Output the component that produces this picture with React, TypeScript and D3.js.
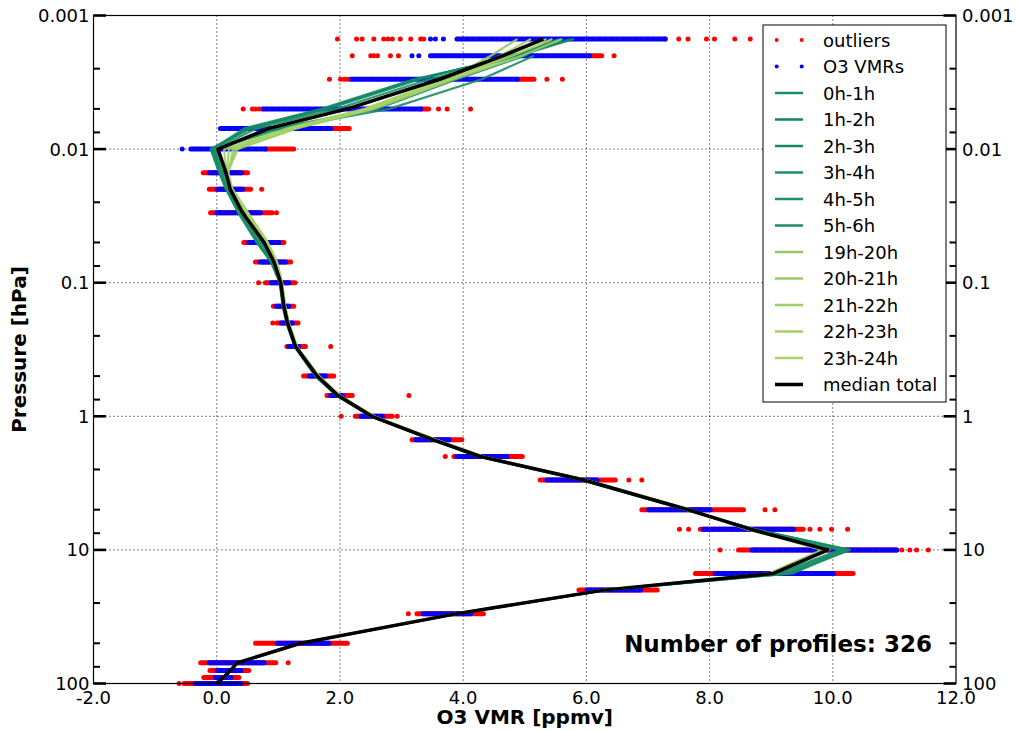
import { scaleLinear, scaleLog, line as d3line } from 'd3';

// pressure levels [hPa], one row of retrievals each
const LEVELS = [
  0.0015, 0.002, 0.003, 0.005, 0.007, 0.01, 0.015, 0.02, 0.03, 0.05, 0.07, 0.1, 0.15, 0.2, 0.3, 0.5, 0.7, 1, 1.5,
  2, 3, 5, 7, 10, 15, 20, 30, 50, 70, 80, 90, 100,
];

// dense spread per level: outliers (red) behind, accepted VMRs (blue) on top
const RED_LO = [
  7.28, 6.05, 4.88, 3.31, 1.85, 0.79, -0.22, -0.12, -0.1, 0.44, 0.63, 0.79, 0.92, 0.98, 1.14, 1.41, 1.79, 2.25, 3.17,
  3.85, 5.25, 6.9, 7.85, 8.47, 7.77, 5.88, 3.25, 0.63, -0.26, -0.11, -0.21, -0.53,
];
const RED_HI = [
  7.28, 6.25, 5.15, 3.44, 2.15, 1.25, 0.5, 0.55, 0.9, 1.09, 1.2, 1.27, 1.25, 1.32, 1.44, 1.9, 2.2, 2.85, 3.98, 4.96,
  6.47, 8.55, 9.52, 11.04, 10.33, 7.15, 4.33, 2.12, 0.96, 0.52, 0.36, 0.5,
];
const BLUE_LO = [
  3.9, 3.47, 2.17, 0.74, 0.06, -0.42, -0.12, 0.01, 0.0, 0.52, 0.71, 0.88, 0.97, 1.05, 1.17, 1.5, 1.85, 2.34, 3.23,
  3.9, 5.36, 7.01, 7.9, 8.69, 8.09, 6.01, 3.35, 0.98, -0.12, 0.01, -0.02, -0.34,
];
const BLUE_HI = [
  7.28, 6.05, 4.88, 3.31, 1.85, 0.79, 0.4, 0.42, 0.71, 1.01, 1.12, 1.17, 1.17, 1.23, 1.33, 1.77, 2.04, 2.69, 3.77,
  4.71, 6.17, 8.01, 9.36, 11.04, 10.01, 6.88, 4.12, 1.82, 0.77, 0.39, 0.23, 0.39,
];

// isolated points [pressure, vmr]
const RED_SINGLE: [number, number][] = [
  [0.0015, 1.96], [0.0015, 2.27], [0.0015, 2.36], [0.0015, 2.55], [0.0015, 2.71], [0.0015, 2.78], [0.0015, 2.85],
  [0.0015, 2.98], [0.0015, 3.15], [0.0015, 3.31], [0.0015, 3.36], [0.0015, 7.5], [0.0015, 7.65], [0.0015, 7.95],
  [0.0015, 8.08], [0.0015, 8.41], [0.0015, 8.66],
  [0.002, 2.2], [0.002, 2.5], [0.002, 2.55], [0.002, 2.61], [0.002, 2.82], [0.002, 2.95], [0.002, 6.45],
  [0.003, 1.83], [0.003, 2.01], [0.003, 2.07], [0.003, 2.12], [0.003, 5.36], [0.003, 5.61],
  [0.005, 0.43], [0.005, 0.58], [0.005, 0.63], [0.005, 0.69], [0.005, 3.6], [0.005, 3.74], [0.005, 4.12],
  [0.02, 0.73], [0.03, 0.97], [0.1, 0.68], [0.2, 0.91], [0.3, 1.85], [0.7, 3.12], [1, 2.02], [1, 2.93], [2, 3.71],
  [3, 6.69], [3, 6.9], [5, 8.9], [5, 9.06],
  [7, 7.51], [7, 7.66], [7, 9.63], [7, 9.79], [7, 9.98], [7, 10.24],
  [10, 8.17], [10, 11.12], [10, 11.25], [10, 11.36], [10, 11.55],
  [30, 3.11], [70, 1.16], [100, -0.61],
];
const BLUE_SINGLE: [number, number][] = [
  [0.0015, 3.47], [0.0015, 3.55], [0.0015, 3.68], [0.002, 3.17], [0.002, 3.28], [0.01, -0.56],
];

// hourly median profiles (null = level missing)
const HOUR_LABELS = [
  '0h-1h', '1h-2h', '2h-3h', '3h-4h', '4h-5h', '5h-6h', '19h-20h', '20h-21h', '21h-22h', '22h-23h', '23h-24h',
];
const HOUR_COLORS = [
  '#1a8c66', '#0d8666', '#118966', '#1f8f66', '#239166', '#1c8e66', '#94c966', '#99cc66', '#9ecf66', '#a3d166', '#a8d466',
];
const HOUR_VMR: (number | null)[][] = [
  [5.8, 4.9, 3.2, 1.7, 0.45, -0.08, 0.05, 0.16, 0.36, 0.66, 0.89, 1.03, 1.08, 1.14, 1.27, 1.62, 1.96, 2.51, 3.5, 4.26, 5.93, 7.62, 8.7, 10.25, 9.25, 6.3, 3.91, 1.37, 0.34, 0.23, 0.12, 0.01],
  [5.75, 4.85, 3.25, 1.75, 0.5, -0.06, 0.07, 0.17, 0.37, 0.68, 0.9, 1.03, 1.08, 1.14, 1.27, 1.61, 1.95, 2.5, 3.49, 4.25, 5.92, 7.61, 8.68, 10.18, 9.15, 6.29, 3.9, 1.36, 0.33, 0.22, 0.11, 0.0],
  [5.63, 4.8, 3.3, 1.8, 0.55, -0.1, 0.04, 0.15, 0.35, 0.65, 0.88, 1.02, 1.07, 1.13, 1.26, 1.6, 1.95, 2.5, 3.48, 4.24, 5.91, 7.6, 8.72, 10.28, 9.3, 6.31, 3.92, 1.37, 0.34, 0.23, 0.12, 0.01],
  [5.55, 4.95, 3.45, 1.95, 0.65, -0.04, 0.08, 0.18, 0.38, 0.7, 0.91, 1.03, 1.08, 1.14, 1.27, 1.62, 1.96, 2.51, 3.5, 4.27, 5.94, 7.63, 8.66, 10.12, 9.1, 6.28, 3.9, 1.36, 0.33, 0.22, 0.11, 0.0],
  [5.44, 5.0, 3.9, 2.6, 0.95, 0.0, 0.1, 0.19, 0.4, 0.72, 0.92, 1.04, 1.09, 1.15, 1.28, 1.62, 1.96, 2.51, 3.51, 4.27, 5.95, 7.64, 8.7, 10.2, 9.2, 6.29, 3.91, 1.37, 0.34, 0.23, 0.12, 0.01],
  [null, 5.15, 4.3, 2.8, 1.05, -0.02, 0.06, 0.16, 0.36, 0.67, 0.9, 1.03, 1.08, 1.14, 1.27, 1.61, 1.95, 2.5, 3.49, 4.26, 5.93, 7.62, 8.74, 10.22, 9.35, 6.32, 3.92, 1.37, 0.34, 0.23, 0.12, 0.01],
  [4.88, 4.45, 3.75, 2.5, 1.25, 0.3, 0.17, 0.25, 0.5, 0.82, 0.97, 1.06, 1.11, 1.17, 1.3, 1.66, 2.0, 2.55, 3.56, 4.32, 6.0, 7.68, 8.64, 9.85, 8.98, 6.26, 3.89, 1.35, 0.33, 0.22, 0.11, 0.0],
  [5.6, 4.95, 3.85, 2.55, 1.3, 0.34, 0.18, 0.26, 0.51, 0.83, 0.98, 1.06, 1.11, 1.17, 1.3, 1.66, 2.0, 2.55, 3.56, 4.33, 6.01, 7.69, 8.62, 9.9, 9.0, 6.27, 3.89, 1.35, 0.33, 0.22, 0.11, 0.0],
  [5.45, 4.8, 3.8, 2.45, 1.2, 0.2, 0.16, 0.24, 0.49, 0.81, 0.97, 1.05, 1.1, 1.16, 1.29, 1.65, 1.99, 2.54, 3.55, 4.31, 5.99, 7.67, 8.66, 9.82, 8.96, 6.26, 3.89, 1.35, 0.33, 0.22, 0.11, 0.0],
  [5.1, 4.6, 3.7, 2.4, 1.15, 0.12, 0.15, 0.24, 0.48, 0.8, 0.96, 1.05, 1.1, 1.16, 1.29, 1.65, 1.99, 2.54, 3.55, 4.31, 5.99, 7.67, 8.6, 9.95, 9.02, 6.27, 3.9, 1.36, 0.33, 0.22, 0.11, 0.0],
  [5.35, 4.7, 3.78, 2.48, 1.22, 0.26, 0.19, 0.25, 0.5, 0.82, 0.97, 1.06, 1.11, 1.17, 1.3, 1.66, 2.0, 2.55, 3.56, 4.32, 6.0, 7.68, 8.63, 9.88, 8.99, 6.26, 3.89, 1.35, 0.33, 0.22, 0.11, 0.0],
];
const MEDIAN_VMR = [
  5.3, 4.65, 3.62, 2.12, 0.85, 0.02, 0.15, 0.22, 0.42, 0.77, 0.93, 1.04, 1.09, 1.15, 1.28, 1.63, 1.97, 2.52, 3.52, 4.28,
  5.96, 7.65, 8.66, 9.92, 9.04, 6.28, 3.9, 1.36, 0.33, 0.22, 0.11, 0.0,
];

const X_TICKS = [-2, 0, 2, 4, 6, 8, 10, 12];
const Y_TICKS = [0.001, 0.01, 0.1, 1, 10, 100];
const Y_TICK_LABELS = ['0.001', '0.01', '0.1', '1', '10', '100'];
const Y_MINOR = [2.5, 5, 7.5];
const N_PROFILES = 326;

const W = 1017;
const H = 731;
const L = 93.5;
const R = 956;
const T = 15.5;
const B = 683.5;
const FONT = '"DejaVu Sans", sans-serif';

export default function App() {
  const x = scaleLinear().domain([-2, 12]).range([L, R]);
  const y = scaleLog().domain([0.001, 100]).range([T, B]);

  const gen = d3line<number | null>()
    .defined((d) => d != null)
    .x((d) => x(d as number))
    .y((_, i) => y(LEVELS[i]));

  const minor: number[] = [];
  Y_TICKS.slice(0, -1).forEach((t) => Y_MINOR.forEach((m) => minor.push(t * m)));

  const legendRows = ['outliers', 'O3 VMRs', ...HOUR_LABELS, 'median total'];
  const LX = 763;
  const LY = 25;
  const ROW = 26.5;

  return (
    <svg width={W} height={H} style={{ position: 'absolute', left: 0, top: 0 }} fontFamily={FONT}>
      <rect width={W} height={H} fill="#fff" />

      {/* grid */}
      <g stroke="#000" strokeWidth={1} strokeDasharray="1,3">
        {X_TICKS.slice(1, -1).map((t) => (
          <line key={t} x1={x(t)} x2={x(t)} y1={T} y2={B} />
        ))}
        {Y_TICKS.slice(1, -1).map((t) => (
          <line key={t} x1={L} x2={R} y1={y(t)} y2={y(t)} />
        ))}
      </g>

      {/* dense point spreads */}
      <g strokeLinecap="round" strokeWidth={5}>
        {LEVELS.map((p, i) => (
          <line key={'r' + i} x1={x(RED_LO[i])} x2={x(RED_HI[i])} y1={y(p)} y2={y(p)} stroke="#ff0000" />
        ))}
        {LEVELS.map((p, i) => (
          <line key={'b' + i} x1={x(BLUE_LO[i])} x2={x(BLUE_HI[i])} y1={y(p)} y2={y(p)} stroke="#0000ff" />
        ))}
        {LEVELS.map((p, i) => (
          <line
            key={'m' + i}
            x1={x(BLUE_LO[i])}
            x2={x(BLUE_HI[i])}
            y1={y(p)}
            y2={y(p)}
            stroke="#6a00b0"
            strokeWidth={2.5}
            strokeDasharray="2,4"
            strokeLinecap="butt"
            opacity={0.45}
          />
        ))}
      </g>
      {RED_SINGLE.map(([p, v], i) => (
        <circle key={'rs' + i} cx={x(v)} cy={y(p)} r={2.5} fill="#ff0000" />
      ))}
      {BLUE_SINGLE.map(([p, v], i) => (
        <circle key={'bs' + i} cx={x(v)} cy={y(p)} r={2.5} fill="#0000ff" />
      ))}

      {/* hourly profiles, then the overall median */}
      <g fill="none" strokeLinejoin="round">
        {HOUR_VMR.map((s, i) => (
          <path key={HOUR_LABELS[i]} d={gen(s) ?? ''} stroke={HOUR_COLORS[i]} strokeWidth={2.2} opacity={0.9} />
        ))}
        <path d={gen(MEDIAN_VMR) ?? ''} stroke="#000" strokeWidth={3.5} />
      </g>

      {/* frame + ticks */}
      <rect x={L} y={T} width={R - L} height={B - T} fill="none" stroke="#000" strokeWidth={1.2} />
      <g stroke="#000">
        {Y_TICKS.map((t) => (
          <g key={t} strokeWidth={2.6}>
            <line x1={L} x2={L + 12.5} y1={y(t)} y2={y(t)} />
            <line x1={R} x2={R - 12.5} y1={y(t)} y2={y(t)} />
          </g>
        ))}
        {minor.map((t) => (
          <g key={t} strokeWidth={2}>
            <line x1={L} x2={L + 6.5} y1={y(t)} y2={y(t)} />
            <line x1={R} x2={R - 6.5} y1={y(t)} y2={y(t)} />
          </g>
        ))}
      </g>

      <g fontSize={18} fill="#000">
        {Y_TICKS.map((t, i) => (
          <text key={'l' + t} x={L - 4} y={y(t) + 6.5} textAnchor="end">
            {Y_TICK_LABELS[i]}
          </text>
        ))}
        {Y_TICKS.map((t, i) => (
          <text key={'r' + t} x={R + 6} y={y(t) + 6.5}>
            {Y_TICK_LABELS[i]}
          </text>
        ))}
        {X_TICKS.map((t) => (
          <text key={'x' + t} x={x(t)} y={B + 20} textAnchor="middle">
            {t.toFixed(1)}
          </text>
        ))}
      </g>

      <text x={(L + R) / 2} y={724} textAnchor="middle" fontSize={20} fontWeight="bold">
        O3 VMR [ppmv]
      </text>
      <text
        transform={`translate(26,${(T + B) / 2}) rotate(-90)`}
        textAnchor="middle"
        fontSize={20}
        fontWeight="bold"
      >
        Pressure [hPa]
      </text>
      <text x={932} y={652} textAnchor="end" fontSize={23} fontWeight="bold">
        Number of profiles: {N_PROFILES}
      </text>

      {/* legend */}
      <g>
        <rect x={LX} y={LY} width={183} height={377} fill="#fff" stroke="#000" strokeWidth={1} />
        {legendRows.map((lab, i) => {
          const cy = LY + 15 + i * ROW;
          let mark;
          if (i < 2) {
            const c = i === 0 ? '#ff0000' : '#0000ff';
            mark = (
              <g fill={c}>
                <circle cx={LX + 13.7} cy={cy} r={2} />
                <circle cx={LX + 38.7} cy={cy} r={2} />
              </g>
            );
          } else {
            const isMed = i === legendRows.length - 1;
            mark = (
              <line
                x1={LX + 12}
                x2={LX + 40}
                y1={cy}
                y2={cy}
                stroke={isMed ? '#000' : HOUR_COLORS[i - 2]}
                strokeWidth={isMed ? 3.5 : 2.5}
              />
            );
          }
          return (
            <g key={lab}>
              {mark}
              <text x={LX + 60} y={cy + 6.5} fontSize={18}>
                {lab}
              </text>
            </g>
          );
        })}
      </g>
    </svg>
  );
}
